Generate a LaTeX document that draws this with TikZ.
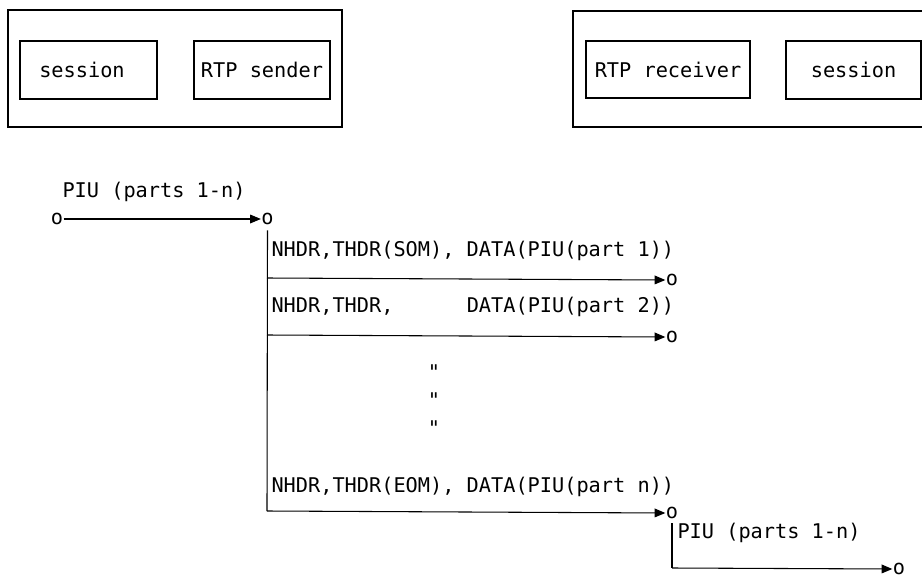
\documentclass[tikz,border=0pt]{standalone}
\usepackage{fontspec}
\setmonofont{DejaVu Sans Mono}
\usetikzlibrary{arrows.meta}
\begin{document}
\begin{tikzpicture}[x=0.75pt,y=-0.75pt,
  font=\ttfamily\fontsize{15.2}{18}\selectfont,
  line width=0.8pt,
  box/.style={draw,rectangle,inner sep=0pt},
  txt/.style={inner sep=0pt,anchor=base west},
  term/.style={inner sep=0pt},
  flow/.style={-{Triangle[length=8pt,width=6.5pt]}}]
\useasboundingbox (0,0) rectangle (922,575);

% sending end
\node[box,minimum width=334*0.75pt,minimum height=117*0.75pt] (sendsys) at (175,68.5) {};
\node[box,minimum width=137*0.75pt,minimum height=58*0.75pt] (sess1) at (88.5,70) {};
\node[inner sep=0pt] (sess1t) at (82,70) {session};
\node[box,minimum width=136*0.75pt,minimum height=58*0.75pt] (rtps) at (262,70) {RTP sender};

% receiving end
\node[box,minimum width=367*0.75pt,minimum height=116*0.75pt] (recvsys) at (756.5,69) {};
\node[box,minimum width=164*0.75pt,minimum height=57*0.75pt] (rtpr) at (668,69.5) {RTP receiver};
\node[box,minimum width=135*0.75pt,minimum height=58*0.75pt] (sess2) at (853.5,70) {session};

% whole PIU handed to RTP
\node[txt] (piuin) at (62,197) {PIU (parts 1-n)};
\node[term] (o0) at (57,219) {o};
\node[term] (o1) at (267.5,219) {o};
\draw[flow] (o0.east) -- (o1.west);

% segments sent on the route
\coordinate (s1) at (267,278);
\coordinate (s2) at (267,335);
\coordinate (sn) at (267,511);
\node[txt] (seg1) at (271,256) {NHDR,THDR(SOM), DATA(PIU(part 1))};
\node[term] (t1) at (672,280) {o};
\node[txt] (seg2) at (271,312) {NHDR,THDR,\phantom{XXXXXX}DATA(PIU(part 2))};
\node[term] (t2) at (672,337) {o};
\node[term] (d1) at (434,372) {"};
\node[term] (d2) at (434,400) {"};
\node[term] (d3) at (434,428) {"};
\node[txt] (segn) at (271,492) {NHDR,THDR(EOM), DATA(PIU(part n))};
\node[term] (tn) at (672,513) {o};

\draw (o1.south) ++(0,5) -- (sn);
\draw[flow] (s1) -- (t1.west);
\draw[flow] (s2) -- (t2.west);
\draw[flow] (sn) -- (tn.west);

% reassembled PIU delivered
\coordinate (rb) at (672,568);
\node[txt] (piuout) at (677,538) {PIU (parts 1-n)};
\node[term] (tout) at (899,569) {o};
\draw (tn.south) ++(0,4) -- (rb);
\draw[flow] (rb) -- (tout.west);
\end{tikzpicture}
\end{document}
